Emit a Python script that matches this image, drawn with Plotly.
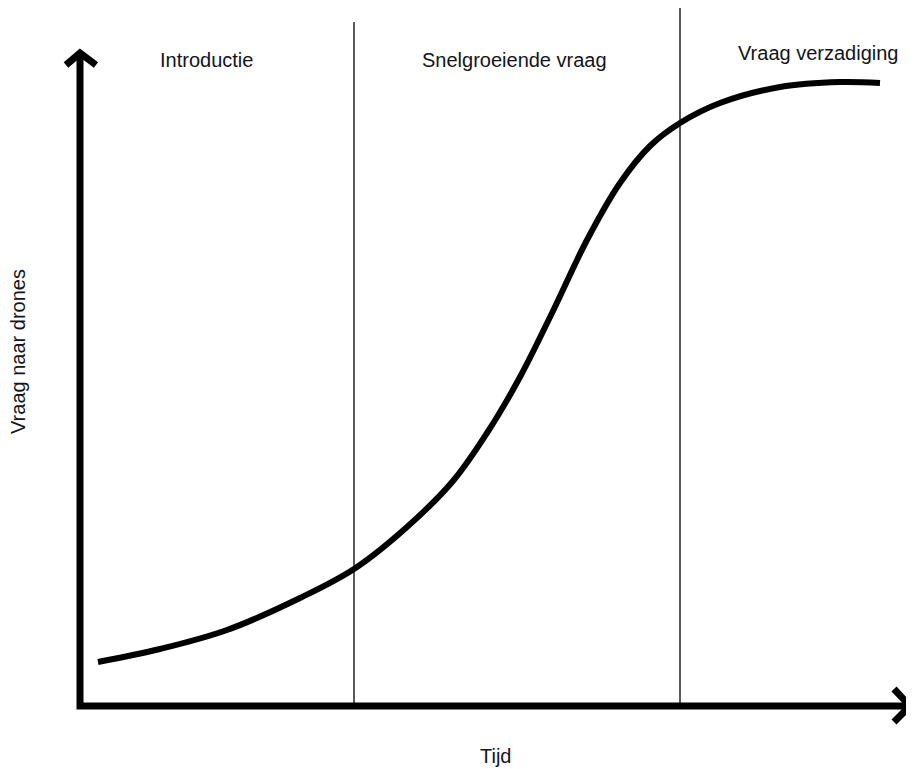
import plotly.graph_objects as go

# units: time and demand measured from the axis origin
tijd = [18, 80, 147, 220, 274, 327, 373, 407, 440, 473, 507, 540, 570, 600, 640, 700, 760, 800]
vraag = [44, 57, 76, 108, 137, 179, 225, 273, 329, 395, 466, 523, 560, 583, 603, 619, 624, 623]

fase_grenzen = [274, 600]
fase_top = [684, 699]
fase_labels = ["Introductie", "Snelgroeiende vraag", "Vraag verzadiging"]
fase_label_x = [126, 434, 738]
fase_label_y = [646, 646, 653]

as_x = [-14, 0, 16, None, 0, 0, 830, None, 814, 830, 814]
as_y = [641, 653, 641, None, 653, 0, 0, None, 17, 0, -16]

fig = go.Figure()

for x, top in zip(fase_grenzen, fase_top):
    fig.add_trace(go.Scatter(x=[x, x], y=[0, top], mode="lines",
                             line=dict(color="black", width=1.3), hoverinfo="skip"))

fig.add_trace(go.Scatter(x=as_x, y=as_y, mode="lines",
                         line=dict(color="black", width=7), hoverinfo="skip"))

fig.add_trace(go.Scatter(x=tijd, y=vraag, mode="lines",
                         line=dict(color="black", width=6, shape="spline", smoothing=1.0),
                         hoverinfo="skip"))

font = dict(family="Liberation Sans, Arial", size=20, color="#141420")
for label, x, y in zip(fase_labels, fase_label_x, fase_label_y):
    fig.add_annotation(x=x, y=y, text=label, showarrow=False, font=font)

fig.add_annotation(x=415, y=-50, text="Tijd", showarrow=False, font=font)
fig.add_annotation(x=-62, y=354, text="Vraag naar drones", showarrow=False,
                   textangle=-90, font=font)

# the page body adds an 8px offset, so the ranges are shifted to compensate
fig.update_layout(
    width=914, height=769,
    margin=dict(l=0, r=0, t=0, b=0),
    showlegend=False,
    plot_bgcolor="white",
    paper_bgcolor="white",
    xaxis=dict(range=[-72, 842], visible=False, fixedrange=True),
    yaxis=dict(range=[-71, 698], visible=False, fixedrange=True),
)

fig.write_html("out.html", config={"displayModeBar": False})
